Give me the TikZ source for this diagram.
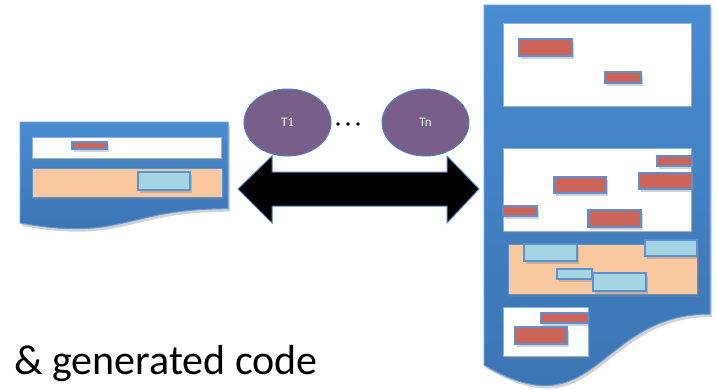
\documentclass[tikz,border=0pt]{standalone}
\usepackage{fontspec}
\setmainfont{Carlito}
\usetikzlibrary{shapes.geometric,shadows}

\definecolor{docTop}{RGB}{72,140,210}
\definecolor{docBot}{RGB}{58,114,176}
\definecolor{docEdge}{RGB}{100,155,215}
\definecolor{boxEdge}{RGB}{90,145,210}
\definecolor{codeRed}{RGB}{205,100,90}
\definecolor{codeBlue}{RGB}{165,213,227}
\definecolor{peach}{RGB}{250,200,158}
\definecolor{taskPurple}{RGB}{122,94,138}
\definecolor{taskEdge}{RGB}{80,130,195}

\tikzset{
  softshadow/.style={drop shadow={opacity=0.35,shadow xshift=2pt,shadow yshift=-3pt}},
  docshape/.style={top color=docTop,bottom color=docBot,draw=docEdge,line width=1pt,softshadow},
  panel/.style={fill=white,draw=boxEdge!70,line width=1pt,softshadow},
  band/.style={fill=peach,draw=boxEdge,line width=1pt,softshadow},
  redbar/.style={fill=codeRed,draw=boxEdge,line width=1.3pt,softshadow},
  bluebar/.style={fill=codeBlue,draw=boxEdge,line width=1.3pt,softshadow},
  task/.style={ellipse,fill=taskPurple,draw=taskEdge,line width=1pt,
    minimum width=87pt,minimum height=67pt,inner sep=0pt,
    text=white,font=\fontsize{13}{14}\selectfont},
  bigarrow/.style={fill=black,draw=taskEdge,line width=1pt}
}

\begin{document}
\begin{tikzpicture}[x=1pt,y=-1pt]
\useasboundingbox (0,0) rectangle (717,389);

% small source document
\path[docshape] (20,122) -- (228,122) -- (228,208.7)
  .. controls (124,208.7) and (124,241.6) .. (20,223) -- cycle;
\path[panel] (32,137) rectangle (221,158);
\path[redbar] (72,142) rectangle (107,149);
\path[band] (32,168) rectangle (222,197);
\path[bluebar] (138,172) rectangle (190,190);

% large generated document
\path[docshape] (484,5) -- (710,5) -- (710,314)
  .. controls (597,314) and (597,432) .. (484,365) -- cycle;
\path[panel] (503,23) rectangle (691,106);
\path[redbar] (519,39) rectangle (572,56);
\path[redbar] (605,72) rectangle (641,83);

\path[panel] (503,148) rectangle (691,231);
\path[redbar] (657,156) rectangle (692,166);
\path[redbar] (639,173) rectangle (692,189);
\path[redbar] (554,177) rectangle (606,193);
\path[redbar] (503,206) rectangle (537,216);
\path[redbar] (588,210) rectangle (641,227);

\path[band] (508,244) rectangle (697,294);
\path[bluebar] (524,244) rectangle (577,261);
\path[bluebar] (645,240) rectangle (697,256);
\path[bluebar] (557,269) rectangle (592,279);
\path[bluebar] (593,273) rectangle (646,291);

\path[panel] (503,307) rectangle (588,356);
\path[redbar] (541,313) rectangle (588,323);
\path[redbar] (515,327) rectangle (567,344);

% transformation arrow
\path[bigarrow] (238,189) -- (272,156) -- (272,172) -- (447,172) -- (447,156)
  -- (479,189) -- (447,223) -- (447,206) -- (272,206) -- (272,223) -- cycle;

% transformations
\node[task] (t1) at (287.5,122.5) {T1};
\node[task] (tn) at (425.5,122.5) {Tn};
\foreach \dx in {338,348,358} \fill (\dx,124) circle (1.8pt);

% caption
\node[anchor=base west,inner sep=0pt,font=\fontsize{42}{44}\selectfont] (cap) at (14,374) {\& generated code};
\end{tikzpicture}
\end{document}
